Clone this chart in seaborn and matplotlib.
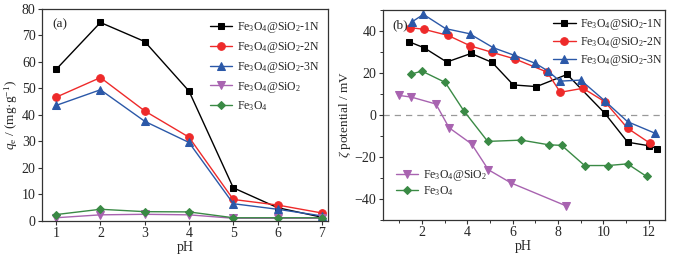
import matplotlib
matplotlib.use("Agg")
import matplotlib.pyplot as plt
import seaborn as sns
import pandas as pd
from matplotlib.ticker import MultipleLocator

sns.set_theme(style="white")
plt.rcParams['font.family'] = ['Liberation Serif', 'DejaVu Serif']
plt.rcParams['mathtext.fontset'] = 'custom'
plt.rcParams['mathtext.rm'] = 'Liberation Serif'
plt.rcParams['mathtext.it'] = 'Liberation Serif:italic'
plt.rcParams['font.size'] = 9

# ---- data panel (a) ----
ph_a = [1, 2, 3, 4, 5, 6, 7]
qe_1N = [57.2, 74.9, 67.7, 49.0, 12.5, 5.0, 1.4]
qe_2N = [46.7, 54.1, 41.5, 31.6, 8.1, 6.0, 3.0]
qe_3N = [43.6, 49.5, 37.6, 29.6, 6.5, 4.4, 1.9]
qe_SiO2 = [1.2, 2.3, 2.5, 2.3, 1.0, 1.0, 1.0]
qe_Fe3O4 = [2.4, 4.4, 3.5, 3.4, 1.2, 1.2, 1.2]

# ---- data panel (b) ----
ph_1N = [1.45, 2.1, 3.1, 4.17, 5.1, 6.03, 7.05, 8.4, 10.06, 11.07, 12.02, 12.35]
zeta_1N = [34.8, 32.0, 25.2, 29.3, 25.0, 14.3, 13.5, 19.3, 0.8, -13.0, -14.7, -16.0]
ph_2N = [1.47, 2.09, 3.15, 4.14, 5.1, 6.12, 7.52, 8.1, 9.1, 10.06, 11.06, 12.04]
zeta_2N = [41.6, 40.8, 37.9, 32.9, 29.8, 26.6, 20.4, 10.8, 12.7, 6.3, -6.3, -13.4]
ph_3N = [1.56, 2.07, 3.05, 4.1, 5.15, 6.05, 7.0, 7.56, 8.08, 9.0, 10.05, 11.06, 12.27]
zeta_3N = [44.3, 47.9, 41.1, 38.7, 32.0, 28.5, 24.6, 20.9, 16.1, 16.6, 6.8, -3.2, -8.7]
ph_SiO2 = [1.0, 1.54, 2.62, 3.2, 4.19, 4.93, 5.93, 8.33]
zeta_SiO2 = [9.3, 8.5, 5.2, -6.1, -13.8, -26.1, -32.4, -43.2]
ph_Fe3O4 = [1.51, 2.0, 3.03, 3.84, 4.9, 6.39, 7.58, 8.16, 9.17, 10.2, 11.06, 11.9]
zeta_Fe3O4 = [19.4, 20.9, 15.5, 2.1, -12.6, -12.0, -14.2, -14.5, -24.1, -24.1, -23.3, -29.3]

labels = ["Fe$_3$O$_4$@SiO$_2$-1N", "Fe$_3$O$_4$@SiO$_2$-2N", "Fe$_3$O$_4$@SiO$_2$-3N",
          "Fe$_3$O$_4$@SiO$_2$", "Fe$_3$O$_4$"]
colors = ["#000000", "#ee2a2a", "#2b58a8", "#a863b0", "#3a8a45"]
markers = ["s", "o", "^", "v", "D"]
msizes = [5, 5.5, 5.5, 5.5, 4.5]

fig = plt.figure(figsize=(6.86, 2.56), dpi=100)
ax1 = fig.add_axes([0.0612, 0.137, 0.417, 0.828])
ax2 = fig.add_axes([0.558, 0.141, 0.411, 0.820])

series_a = [qe_1N, qe_2N, qe_3N, qe_SiO2, qe_Fe3O4]
for y, lab, c, m, ms in zip(series_a, labels, colors, markers, msizes):
    sns.lineplot(x=ph_a, y=y, ax=ax1, color=c, marker=m, markersize=ms,
                 markeredgecolor=c, linewidth=1.0, label=lab)

series_b = [(ph_1N, zeta_1N), (ph_2N, zeta_2N), (ph_3N, zeta_3N),
            (ph_SiO2, zeta_SiO2), (ph_Fe3O4, zeta_Fe3O4)]
for (x, y), lab, c, m, ms in zip(series_b, labels, colors, markers, msizes):
    df = pd.DataFrame({"x": x, "y": y})
    sns.lineplot(data=df, x="x", y="y", ax=ax2, color=c, marker=m, markersize=ms,
                 markeredgecolor=c, linewidth=1.0, label=lab, sort=False)

ax2.axhline(0, color="#999999", linestyle=(0, (5, 4)), linewidth=0.9, zorder=0)

# axes (a)
ax1.set_xlim(0.68, 7.14)
ax1.set_ylim(0, 80)
ax1.xaxis.set_major_locator(MultipleLocator(1))
ax1.yaxis.set_major_locator(MultipleLocator(10))
ax1.set_xlabel("pH", fontsize=10, labelpad=0.5)
ax1.set_ylabel("$q_\\mathrm{e}$ / (mg·g$^{-1}$)", fontsize=9.5, labelpad=1.5)
ax1.text(0.035, 0.955, "(a)", transform=ax1.transAxes, ha="left", va="top", fontsize=9.5)
h, l = ax1.get_legend_handles_labels()
ax1.legend(h, l, loc="upper right", bbox_to_anchor=(1.0, 0.985), frameon=False, fontsize=8.5,
           handlelength=1.9, labelspacing=0.40, borderaxespad=0.3, handletextpad=0.4)

# axes (b)
ax2.set_xlim(0.28, 12.7)
ax2.set_ylim(-50, 50)
ax2.xaxis.set_major_locator(MultipleLocator(2))
ax2.xaxis.set_minor_locator(MultipleLocator(1))
ax2.yaxis.set_major_locator(MultipleLocator(20))
ax2.yaxis.set_minor_locator(MultipleLocator(10))
ax2.set_xlabel("pH", fontsize=10, labelpad=0.5)
ax2.set_ylabel("$\\zeta$ potential / mV", fontsize=9.5, labelpad=1.5)
ax2.text(0.035, 0.955, "(b)", transform=ax2.transAxes, ha="left", va="top", fontsize=9.5)
h, l = ax2.get_legend_handles_labels()
leg1 = ax2.legend(h[:3], l[:3], loc="upper right", bbox_to_anchor=(1.02, 1.0), frameon=False,
                  fontsize=8.5, handlelength=1.9, labelspacing=0.25, borderaxespad=0.2,
                  handletextpad=0.4)
ax2.add_artist(leg1)
ax2.legend(h[3:], l[3:], loc="lower left", bbox_to_anchor=(0.02, 0.07), frameon=False,
           fontsize=8.5, handlelength=1.9, labelspacing=0.12, borderaxespad=0.2,
           handletextpad=0.4)

for ax in (ax1, ax2):
    for s in ax.spines.values():
        s.set_color("#333333")
        s.set_linewidth(0.9)
    ax.tick_params(axis="both", which="major", direction="out", length=3, width=0.8,
                   labelsize=10, pad=1.5, bottom=True, left=True, color="#333333")
    ax.tick_params(axis="both", which="minor", direction="out", length=2, width=0.7,
                   bottom=True, left=True, color="#333333")

fig.savefig("out.png", dpi=100)
